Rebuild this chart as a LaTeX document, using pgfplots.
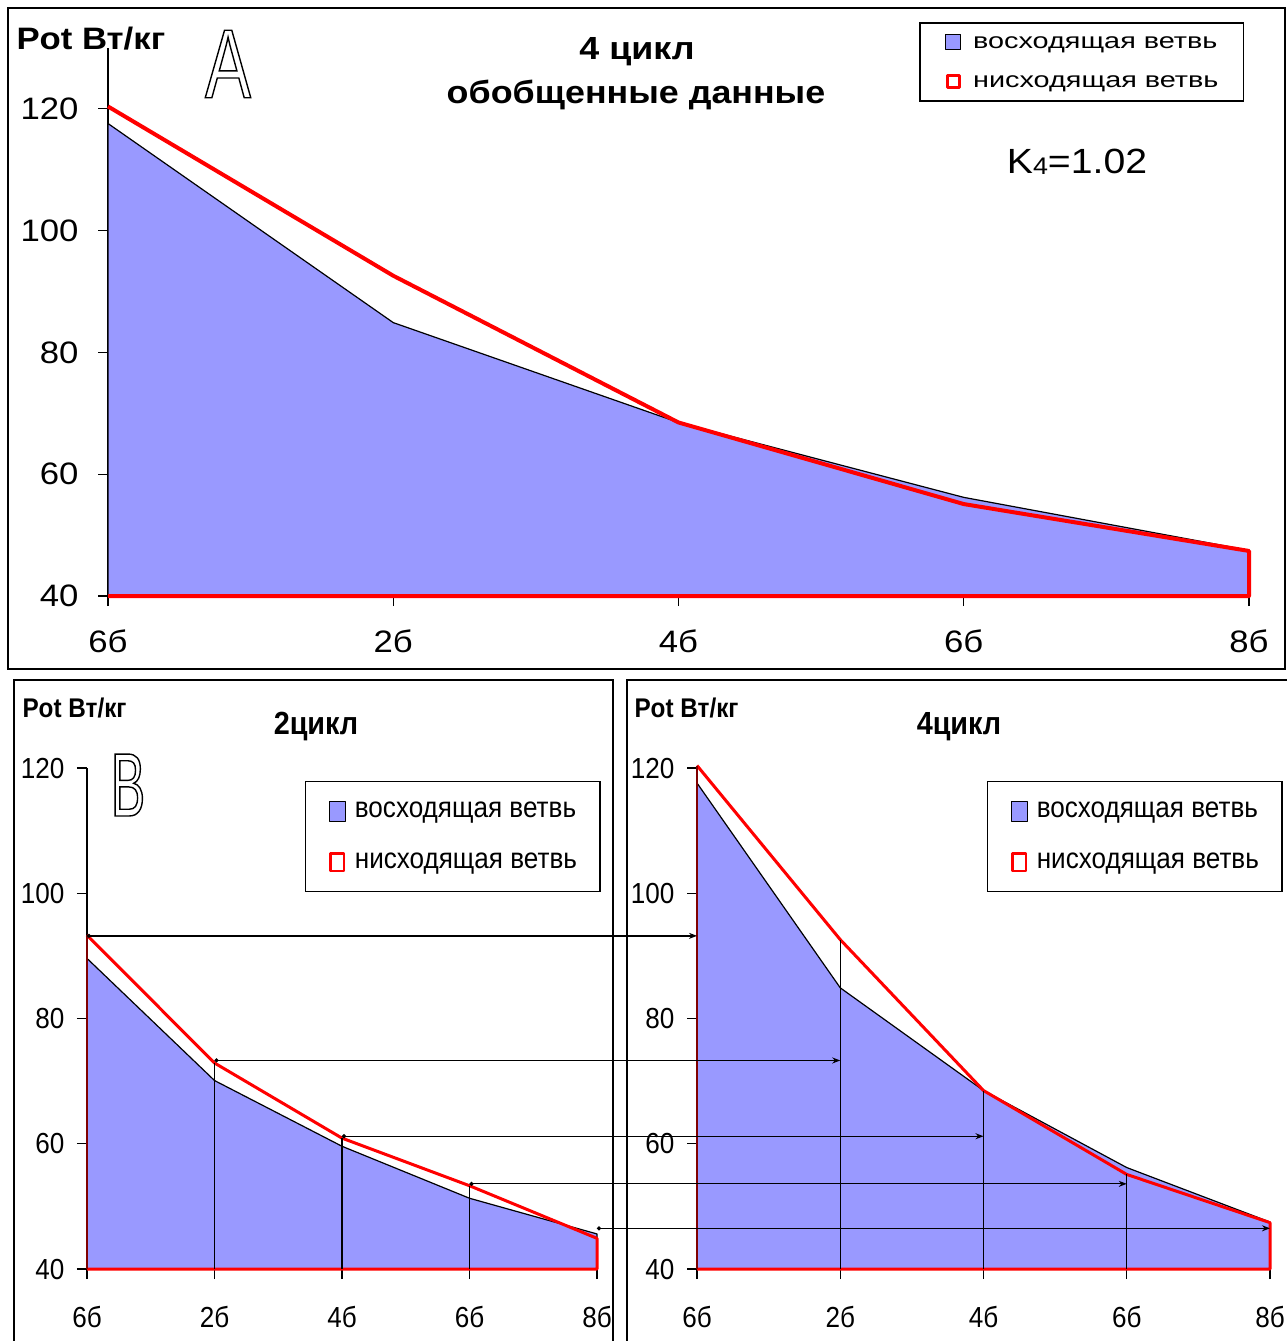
\documentclass[border=0pt]{standalone}
\usepackage{fontspec}
\usepackage{pgfplots}
\usepackage{pgfplotstable}
\pgfplotsset{compat=1.18}
\usetikzlibrary{arrows.meta}

\setmainfont{Liberation Sans}
\newfontfamily\fA[FakeStretch=1.12]{Liberation Sans}
\newfontfamily\fL[FakeStretch=1.31]{Liberation Sans}
\newfontfamily\fB[FakeStretch=0.9]{Liberation Sans}
\newfontfamily\fBigA[FakeStretch=0.70]{Liberation Sans}
\newfontfamily\fBigB[FakeStretch=0.57]{Liberation Sans}
\newcommand\sz[1]{\fontsize{#1}{#1}\selectfont}
% outlined (stroked, unfilled) glyphs for the panel letters
\newcommand\hollow[1]{\special{pdf:literal direct 1 Tr 1.4 w}#1\special{pdf:literal direct 0 Tr}}
\definecolor{areablue}{RGB}{153,153,255}
\definecolor{edgered}{RGB}{128,0,0}

% cycle 4 (also the summary panel) and cycle 2: rising and falling branch
\pgfplotstableread{
x up down
0 117.6 120.4
1 84.9 92.6
2 68.5 68.5
3 56.2 55.1
4 47.5 47.4
}\cycfour
\pgfplotstableread{
x up down
0 89.6 93.3
1 70.1 72.9
2 59.6 60.9
3 51.3 53.3
4 45.6 44.9
}\cyctwo

\pgfplotsset{
  cyc/.style={scale only axis, anchor=south west,
    xmin=0, xmax=4, ymin=40,
    axis lines*=left,
    axis line style={black, line width=1.2pt},
    xtick={0,...,4}, xticklabels={6б,2б,4б,6б,8б},
    ytick={40,60,...,120},
    tick align=outside, major tick length=10pt,
    tick style={black, line width=1.2pt},
    /pgf/number format/assume math mode=true,
    clip=false, legend cell align=left},
  upst/.style={draw=black, line width=1.2pt, fill=areablue, line join=round},
  topleg/.style={legend style={at={(0.711,1.047)}, anchor=north west,
    draw=black, line width=1.5pt, inner xsep=25pt, inner ysep=10pt,
    row sep=22pt, column sep=12pt, font=\fL\sz{22},
    nodes={inner sep=0pt, text height=15pt, text depth=3pt}}},
  botleg/.style={legend style={at={#1}, anchor=north west,
    draw=black, line width=1.3pt, inner xsep=23pt, inner ysep=18pt,
    row sep=28pt, column sep=9pt, font=\fB\sz{29},
    nodes={inner sep=0pt, text height=18pt, text depth=5pt}}},
}

\begin{document}
\begin{tikzpicture}
\path[use as bounding box] (0pt,0pt) rectangle (1287pt,-1341pt);

% ---------- summary panel ----------
\begin{axis}[cyc, at={(108pt,-596pt)}, width=1141pt, height=548pt, ymax=130,
  ticklabel style={font=\fA\sz{31}},
  xticklabel style={yshift=-20pt}, yticklabel style={xshift=-16pt}, topleg]
  \addplot[upst, legend image code/.code={\draw[black, line width=1.2pt, fill=areablue] (0pt,-7.5pt) rectangle (15pt,7.5pt);}]
    table[x=x, y=up] {\cycfour} \closedcycle;
  \addplot[red, line width=4pt, line join=round, legend image code/.code={\draw[red, line width=3pt, fill=white] (1.5pt,-6pt) rectangle (13.5pt,6pt);}]
    table[x=x, y=down] {\cycfour} -- (axis cs:4,40) -- (axis cs:0,40);
  \legend{восходящая ветвь, нисходящая ветвь}
\end{axis}

% ---------- cycle 2 ----------
\begin{axis}[cyc, at={(87pt,-1269pt)}, width=510pt, height=501pt, ymax=120,
  ticklabel style={font=\fB\sz{29}},
  xticklabel style={yshift=-24pt}, yticklabel style={xshift=-9pt},
  botleg={(0.4275,0.974)}]
  \addplot[upst, legend image code/.code={\draw[black, line width=1.2pt, fill=areablue] (0pt,-10pt) rectangle (16pt,10pt);}]
    table[x=x, y=up] {\cyctwo} \closedcycle;
  \addplot[red, line width=3pt, line join=round, legend image code/.code={\draw[red, line width=2.5pt, fill=white] (1.25pt,-8.75pt) rectangle (14.75pt,8.75pt);}]
    table[x=x, y=down] {\cyctwo} -- (axis cs:4,40) -- (axis cs:0,40);
  \legend{восходящая ветвь, нисходящая ветвь}
  \addplot[edgered, line width=1.2pt, forget plot] table[x=x, y=down, restrict x to domain=0:0] {\cyctwo} -- (axis cs:0,40);
  \addplot[black, line width=1.2pt, forget plot] coordinates {(1,40) (1,72.9)};
  \addplot[black, line width=1.2pt, forget plot] coordinates {(2,40) (2,60.9)};
  \addplot[black, line width=1.2pt, forget plot] coordinates {(3,40) (3,53.3)};
  \coordinate (s1) at (axis cs:0,93.2);
  \coordinate (s2) at (axis cs:1,73.3);
  \coordinate (s3) at (axis cs:2,61.2);
  \coordinate (s4) at (axis cs:3,53.6);
  \coordinate (s5) at (axis cs:4,46.5);
\end{axis}

% ---------- cycle 4 ----------
\begin{axis}[cyc, at={(697pt,-1269pt)}, width=573pt, height=501pt, ymax=120,
  ticklabel style={font=\fB\sz{29}},
  xticklabel style={yshift=-24pt}, yticklabel style={xshift=-9pt},
  botleg={(0.506,0.974)}]
  \addplot[upst, legend image code/.code={\draw[black, line width=1.2pt, fill=areablue] (0pt,-10pt) rectangle (16pt,10pt);}]
    table[x=x, y=up] {\cycfour} \closedcycle;
  \addplot[red, line width=3pt, line join=round, legend image code/.code={\draw[red, line width=2.5pt, fill=white] (1.25pt,-8.75pt) rectangle (14.75pt,8.75pt);}]
    table[x=x, y=down] {\cycfour} -- (axis cs:4,40) -- (axis cs:0,40);
  \legend{восходящая ветвь, нисходящая ветвь}
  \addplot[edgered, line width=1.2pt, forget plot] table[x=x, y=down, restrict x to domain=0:0] {\cycfour} -- (axis cs:0,40);
  \addplot[black, line width=1.2pt, forget plot] coordinates {(1,40) (1,92.6)};
  \addplot[black, line width=1.2pt, forget plot] coordinates {(2,40) (2,68.5)};
  \addplot[black, line width=1.2pt, forget plot] coordinates {(3,40) (3,55.1)};
  \coordinate (e1) at (axis cs:0,93.2);
  \coordinate (e2) at (axis cs:1,73.3);
  \coordinate (e3) at (axis cs:2,61.2);
  \coordinate (e4) at (axis cs:3,53.6);
  \coordinate (e5) at (axis cs:4,46.5);
\end{axis}

% links from cycle 2 to cycle 4
\foreach \i in {1,...,5}
  \draw[black, line width=1.3pt, {Circle[length=4pt]}-{Stealth[length=8pt, width=6pt]}] (s\i) -- (e\i);

\begin{scope}[x=1pt, y=-1pt]
  % panel frames
  \draw[black, line width=2pt] (8,8) rectangle (1285,669);
  \draw[black, line width=1.5pt] (14,680) rectangle (613,1360);
  \draw[black, line width=1.5pt] (627,680) rectangle (1300,1360);
  % titles and labels
  \node[anchor=west, font=\fA\bfseries\sz{31}] at (13,39) {Pot Вт/кг};
  \node[font=\fA\bfseries\sz{32}] at (637,52) {4 цикл};
  \node[font=\fA\bfseries\sz{32}] at (636,95) {обобщенные данные};
  \node[font=\fA\sz{35}] at (1077,162) {K\raisebox{-1pt}{\sz{24}4}=1.02};
  \node[anchor=west, font=\fB\bfseries\sz{27}] at (19,708) {Pot Вт/кг};
  \node[anchor=west, font=\fB\bfseries\sz{27}] at (631,708) {Pot Вт/кг};
  \node[font=\fB\bfseries\sz{32}] at (316,727) {2цикл};
  \node[font=\fB\bfseries\sz{32}] at (959,727) {4цикл};
  \node[font=\fBigA\sz{98}] at (228,64) {\hollow{A}};
  \node[font=\fBigB\sz{90}] at (128,785) {\hollow{B}};
\end{scope}
\end{tikzpicture}
\end{document}
